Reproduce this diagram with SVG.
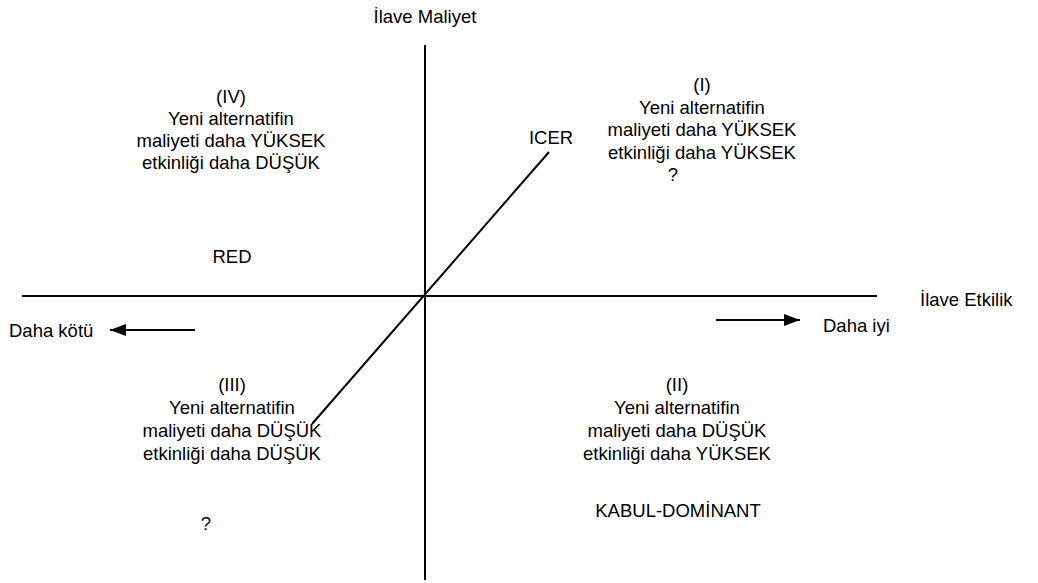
<svg xmlns="http://www.w3.org/2000/svg" width="1038" height="583" viewBox="0 0 1038 583">
<style>
text{font-family:"Liberation Sans","Arial",sans-serif;font-size:18.5px;fill:#000;font-variant-ligatures:none}
.c{text-anchor:middle}
.ln{stroke:#000;stroke-width:2;fill:none}
</style>
<defs>
<marker id="ah2" viewBox="0 0 16 12" refX="16" refY="6" markerWidth="16" markerHeight="12" markerUnits="userSpaceOnUse" orient="auto">
<path d="M0,0 L16,6 L0,12 Z" fill="#000"/>
</marker>
</defs>
<rect width="1038" height="583" fill="#fff"/>
<g id="connectors">
<line class="ln" x1="425" y1="45" x2="425" y2="580"/>
<line class="ln" x1="22" y1="296" x2="877" y2="296"/>
<line class="ln" x1="312" y1="424" x2="549" y2="152"/>
<line class="ln" x1="195" y1="330" x2="110" y2="330" marker-end="url(#ah2)"/>
<line class="ln" x1="716" y1="320" x2="800" y2="320" marker-end="url(#ah2)"/>
</g>
<g id="axis-y"><text class="c" x="425" y="23">İlave Maliyet</text></g>
<g id="axis-x"><text x="920" y="306">İlave Etkilik</text></g>
<g id="worse"><text x="9" y="337">Daha kötü</text></g>
<g id="better"><text x="823" y="332">Daha iyi</text></g>
<g id="icer"><text class="c" x="551" y="144">ICER</text></g>
<g id="q4">
<text class="c" x="231" y="103">(IV)</text>
<text class="c" x="231" y="125">Yeni alternatifin</text>
<text class="c" x="231" y="147">maliyeti daha YÜKSEK</text>
<text class="c" x="231" y="169">etkinliği daha DÜŞÜK</text>
<text class="c" x="232" y="263">RED</text>
</g>
<g id="q1">
<text class="c" x="702" y="91">(I)</text>
<text class="c" x="702" y="114">Yeni alternatifin</text>
<text class="c" x="702" y="136">maliyeti daha YÜKSEK</text>
<text class="c" x="702" y="159">etkinliği daha YÜKSEK</text>
<text class="c" x="673" y="181">?</text>
</g>
<g id="q3">
<text class="c" x="232" y="391">(III)</text>
<text class="c" x="232" y="414">Yeni alternatifin</text>
<text class="c" x="232" y="437">maliyeti daha DÜŞÜK</text>
<text class="c" x="232" y="460">etkinliği daha DÜŞÜK</text>
<text class="c" x="206" y="530">?</text>
</g>
<g id="q2">
<text class="c" x="677" y="391">(II)</text>
<text class="c" x="677" y="414">Yeni alternatifin</text>
<text class="c" x="677" y="437">maliyeti daha DÜŞÜK</text>
<text class="c" x="677" y="460">etkinliği daha YÜKSEK</text>
<text class="c" x="678" y="517">KABUL-DOMİNANT</text>
</g>
</svg>
